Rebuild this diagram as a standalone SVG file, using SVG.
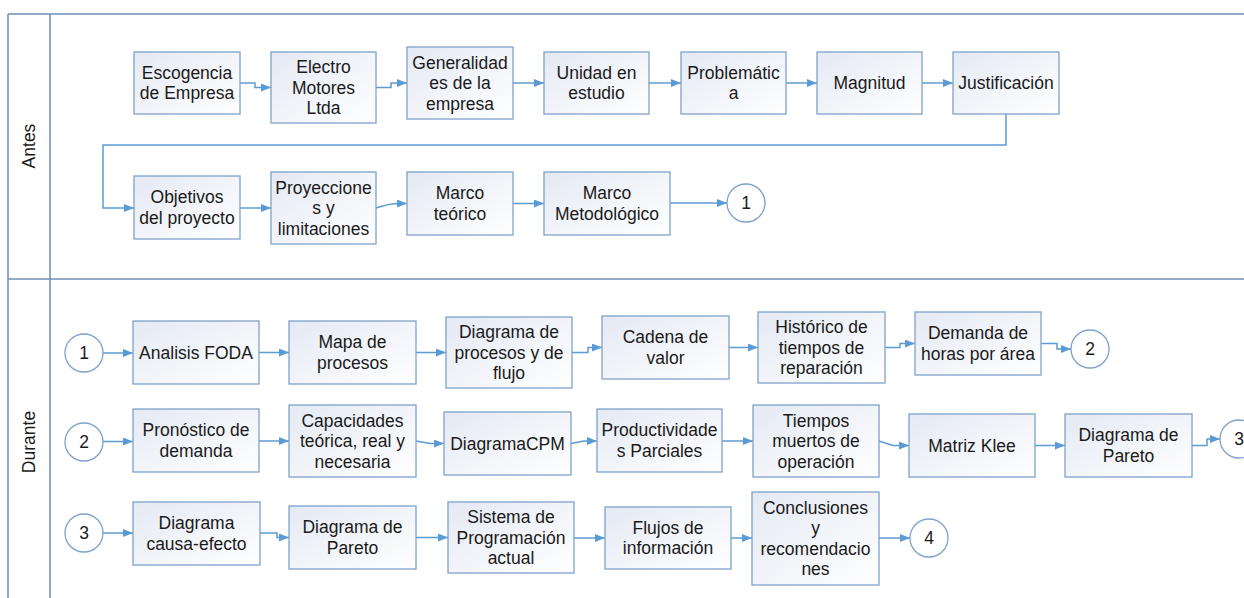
<svg xmlns="http://www.w3.org/2000/svg" width="1244" height="598" viewBox="0 0 1244 598">
<defs>
<linearGradient id="bg" x1="0" y1="0" x2="1" y2="1">
<stop offset="0" stop-color="#e4e9f3"/>
<stop offset="1" stop-color="#ffffff"/>
</linearGradient>
<marker id="arr" viewBox="0 0 10 8" refX="10" refY="4" markerWidth="10" markerHeight="8" markerUnits="userSpaceOnUse" orient="auto">
<path d="M0,0 L10,4 L0,8 z" fill="#5b9bd5"/>
</marker>
<style>
.box{fill:url(#bg);stroke:#7fa2cc;stroke-width:1.3}
.cir{fill:#ffffff;stroke:#7fa2cc;stroke-width:1.3}
.t{font-family:"Liberation Sans",Arial,sans-serif;font-size:17.5px;fill:#1a1a1a;text-anchor:middle}
.lane{stroke:#6f8fb8;stroke-width:1.5;fill:none}
.c{fill:none;stroke:#5b9bd5;stroke-width:1.5;marker-end:url(#arr)}
</style>
</defs>
<rect width="1244" height="598" fill="#ffffff"/>
<g id="lanes">
<path class="lane" d="M8,14 H1244 M8,14 V598 M50,14 V598 M8,279 H1244" />
<text class="t" transform="translate(35,146) rotate(-90)">Antes</text>
<text class="t" transform="translate(35,442) rotate(-90)">Durante</text>
</g>
<g id="connectors">
<path class="c" d="M240,83 H255 V87.5 H271"/>
<path class="c" d="M376,87.5 H391 V83 H407"/>
<path class="c" d="M513,83 H544"/>
<path class="c" d="M649,83 H681"/>
<path class="c" d="M786,83 H817"/>
<path class="c" d="M922,83 H953"/>
<path class="c" d="M1006,114 V145 H103 V208 H134"/>
<path class="c" d="M240,208 H271"/>
<path class="c" d="M376,208 Q388,204 397,203.5 L407,203.5"/>
<path class="c" d="M513,203.5 H544"/>
<path class="c" d="M670,203 H727"/>
<path class="c" d="M103,353 H133"/>
<path class="c" d="M259,352.5 H289"/>
<path class="c" d="M416,352.5 H446"/>
<path class="c" d="M572,352.5 H588 V347.5 H602"/>
<path class="c" d="M729,347.5 H758"/>
<path class="c" d="M885,347.5 H900 V343.5 H915"/>
<path class="c" d="M1041,343.5 H1057 V349 H1071"/>
<path class="c" d="M103,441.5 H133"/>
<path class="c" d="M259,441 H289"/>
<path class="c" d="M416,441 L430,443.5 H444"/>
<path class="c" d="M571,443.5 L584,441 H597"/>
<path class="c" d="M722,441 H753"/>
<path class="c" d="M879,441 L893,445.5 H909"/>
<path class="c" d="M1035,445.5 H1065"/>
<path class="c" d="M1192,445.5 H1207 V439 H1220"/>
<path class="c" d="M103,533 H133"/>
<path class="c" d="M260,533 H277 V537.5 H289"/>
<path class="c" d="M416,537.5 H448"/>
<path class="c" d="M574,538 H605"/>
<path class="c" d="M731,538 H752"/>
<path class="c" d="M879,538 H910"/>
</g>
<g id="a1"><rect class="box" x="134" y="52" width="106" height="62"/><text class="t"><tspan x="187" y="78.75">Escogencia</tspan><tspan x="187" y="99.25">de Empresa</tspan></text></g>
<g id="a2"><rect class="box" x="271" y="52" width="105" height="71"/><text class="t"><tspan x="323.5" y="73">Electro</tspan><tspan x="323.5" y="93.5">Motores</tspan><tspan x="323.5" y="114">Ltda</tspan></text></g>
<g id="a3"><rect class="box" x="407" y="47" width="106" height="72"/><text class="t"><tspan x="460" y="68.5">Generalidad</tspan><tspan x="460" y="89">es de la</tspan><tspan x="460" y="109.5">empresa</tspan></text></g>
<g id="a4"><rect class="box" x="544" y="52" width="105" height="62"/><text class="t"><tspan x="596.5" y="78.75">Unidad en</tspan><tspan x="596.5" y="99.25">estudio</tspan></text></g>
<g id="a5"><rect class="box" x="681" y="52" width="105" height="62"/><text class="t"><tspan x="733.5" y="78.75">Problemátic</tspan><tspan x="733.5" y="99.25">a</tspan></text></g>
<g id="a6"><rect class="box" x="817" y="52" width="105" height="62"/><text class="t"><tspan x="869.5" y="89">Magnitud</tspan></text></g>
<g id="a7"><rect class="box" x="953" y="52" width="106" height="62"/><text class="t"><tspan x="1006" y="89">Justificación</tspan></text></g>
<g id="a8"><rect class="box" x="134" y="176" width="106" height="63"/><text class="t"><tspan x="187" y="203.25">Objetivos</tspan><tspan x="187" y="223.75">del proyecto</tspan></text></g>
<g id="a9"><rect class="box" x="271" y="172" width="105" height="72"/><text class="t"><tspan x="323.5" y="193.5">Proyeccione</tspan><tspan x="323.5" y="214">s y</tspan><tspan x="323.5" y="234.5">limitaciones</tspan></text></g>
<g id="a10"><rect class="box" x="407" y="172" width="106" height="63"/><text class="t"><tspan x="460" y="199.25">Marco</tspan><tspan x="460" y="219.75">teórico</tspan></text></g>
<g id="a11"><rect class="box" x="544" y="172" width="126" height="63"/><text class="t"><tspan x="607" y="199.25">Marco</tspan><tspan x="607" y="219.75">Metodológico</tspan></text></g>
<g id="c1a"><circle class="cir" cx="746" cy="203" r="19"/><text class="t" x="746" y="209">1</text></g>
<g id="c1b"><circle class="cir" cx="84" cy="353" r="19"/><text class="t" x="84" y="359">1</text></g>
<g id="d2"><rect class="box" x="133" y="321" width="126" height="63"/><text class="t"><tspan x="196" y="358.5">Analisis FODA</tspan></text></g>
<g id="d3"><rect class="box" x="289" y="321" width="127" height="63"/><text class="t"><tspan x="352.5" y="348.25">Mapa de</tspan><tspan x="352.5" y="368.75">procesos</tspan></text></g>
<g id="d4"><rect class="box" x="446" y="317" width="126" height="71"/><text class="t"><tspan x="509" y="338">Diagrama de</tspan><tspan x="509" y="358.5">procesos y de</tspan><tspan x="509" y="379">flujo</tspan></text></g>
<g id="d5"><rect class="box" x="602" y="316" width="127" height="63"/><text class="t"><tspan x="665.5" y="343.25">Cadena de</tspan><tspan x="665.5" y="363.75">valor</tspan></text></g>
<g id="d6"><rect class="box" x="758" y="312" width="127" height="71"/><text class="t"><tspan x="821.5" y="333">Histórico de</tspan><tspan x="821.5" y="353.5">tiempos de</tspan><tspan x="821.5" y="374">reparación</tspan></text></g>
<g id="d7"><rect class="box" x="915" y="312" width="126" height="63"/><text class="t"><tspan x="978" y="339.25">Demanda de</tspan><tspan x="978" y="359.75">horas por área</tspan></text></g>
<g id="c2a"><circle class="cir" cx="1090" cy="349" r="19"/><text class="t" x="1090" y="355">2</text></g>
<g id="c2b"><circle class="cir" cx="84" cy="442" r="19"/><text class="t" x="84" y="448">2</text></g>
<g id="e1"><rect class="box" x="133" y="409" width="126" height="63"/><text class="t"><tspan x="196" y="436.25">Pronóstico de</tspan><tspan x="196" y="456.75">demanda</tspan></text></g>
<g id="e2"><rect class="box" x="289" y="405" width="127" height="72"/><text class="t"><tspan x="352.5" y="426.5">Capacidades</tspan><tspan x="352.5" y="447">teórica, real y</tspan><tspan x="352.5" y="467.5">necesaria</tspan></text></g>
<g id="e3"><rect class="box" x="444" y="412" width="127" height="63"/><text class="t"><tspan x="507.5" y="449.5">DiagramaCPM</tspan></text></g>
<g id="e4"><rect class="box" x="597" y="409" width="125" height="63"/><text class="t"><tspan x="659.5" y="436.25">Productividade</tspan><tspan x="659.5" y="456.75">s Parciales</tspan></text></g>
<g id="e5"><rect class="box" x="753" y="405" width="126" height="72"/><text class="t"><tspan x="816" y="426.5">Tiempos</tspan><tspan x="816" y="447">muertos de</tspan><tspan x="816" y="467.5">operación</tspan></text></g>
<g id="e6"><rect class="box" x="909" y="414" width="126" height="63"/><text class="t"><tspan x="972" y="451.5">Matriz Klee</tspan></text></g>
<g id="e7"><rect class="box" x="1065" y="414" width="127" height="63"/><text class="t"><tspan x="1128.5" y="441.25">Diagrama de</tspan><tspan x="1128.5" y="461.75">Pareto</tspan></text></g>
<g id="c3a"><circle class="cir" cx="1239" cy="439" r="19"/><text class="t" x="1239" y="445">3</text></g>
<g id="c3b"><circle class="cir" cx="84" cy="533" r="19"/><text class="t" x="84" y="539">3</text></g>
<g id="f1"><rect class="box" x="133" y="502" width="127" height="63"/><text class="t"><tspan x="196.5" y="529.25">Diagrama</tspan><tspan x="196.5" y="549.75">causa-efecto</tspan></text></g>
<g id="f2"><rect class="box" x="289" y="506" width="127" height="63"/><text class="t"><tspan x="352.5" y="533.25">Diagrama de</tspan><tspan x="352.5" y="553.75">Pareto</tspan></text></g>
<g id="f3"><rect class="box" x="448" y="502" width="126" height="71"/><text class="t"><tspan x="511" y="523">Sistema de</tspan><tspan x="511" y="543.5">Programación</tspan><tspan x="511" y="564">actual</tspan></text></g>
<g id="f4"><rect class="box" x="605" y="507" width="126" height="62"/><text class="t"><tspan x="668" y="533.75">Flujos de</tspan><tspan x="668" y="554.25">información</tspan></text></g>
<g id="f5"><rect class="box" x="752" y="492" width="127" height="93"/><text class="t"><tspan x="815.5" y="513.75">Conclusiones</tspan><tspan x="815.5" y="534.25">y</tspan><tspan x="815.5" y="554.75">recomendacio</tspan><tspan x="815.5" y="575.25">nes</tspan></text></g>
<g id="c4"><circle class="cir" cx="929" cy="538" r="19"/><text class="t" x="929" y="544">4</text></g>
</svg>
